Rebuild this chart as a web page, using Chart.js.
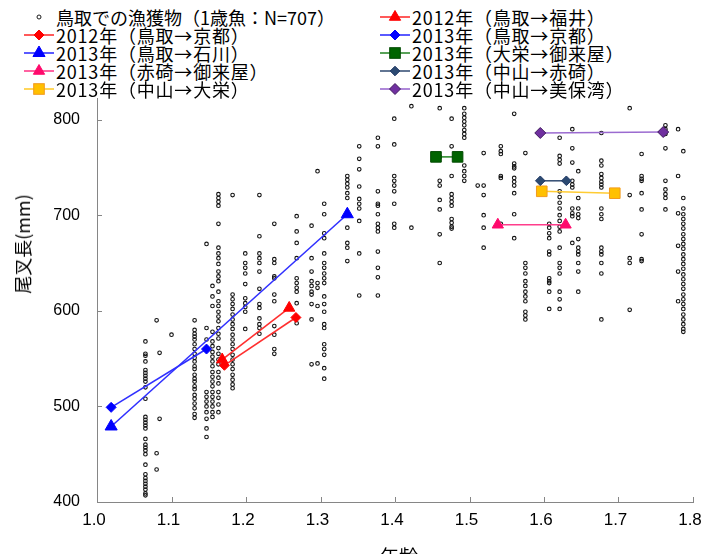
<!DOCTYPE html>
<html>
<head>
<meta charset="utf-8">
<script src="https://cdn.jsdelivr.net/npm/chart.js@4.4.1/dist/chart.umd.min.js"></script>
<style>
body{margin:0;background:#fff;overflow:hidden;}
#wrap{position:relative;width:702px;height:554px;overflow:hidden;}
#legend{position:absolute;left:0;top:0;width:702px;height:98px;background:#fff;}
.item{position:absolute;height:18px;line-height:18px;font-size:18px;font-family:"Noto Sans CJK JP";white-space:nowrap;color:#000;}
.item.track{letter-spacing:0.8px;}
.item svg{position:absolute;left:-32px;top:0;}
#ytitle{position:absolute;left:22px;top:244px;transform:translate(-50%,-50%) rotate(-90deg);font:18px "Noto Sans CJK JP";line-height:18px;white-space:nowrap;}
#xtitle{position:absolute;left:399px;top:546px;transform:translateX(-50%);font:19px "Noto Sans CJK JP";line-height:19px;white-space:nowrap;}
</style>
</head>
<body>
<div id="wrap">
  <canvas id="chart" width="702" height="554"></canvas>
  <div id="legend"></div>
  <div id="ytitle">尾叉長(mm)</div>
  <div id="xtitle">年齢</div>
</div>
<script>
// ---------------- DATA ----------------
// catch data (age columns, fork length in mm)
const catchLabel = "鳥取での漁獲物（1歳魚：N=707）";
const catchAges = [1.065,1.080,1.084,1.100,1.131,1.147,1.155,1.163,1.182,1.199,1.218,1.238,1.268,1.288,1.296,1.305,
  1.336,1.352,1.377,1.399,1.422,1.460,1.476,1.493,1.511,1.519,1.542,1.560,1.575,1.607,1.621,1.638,1.646,1.677,
  1.715,1.731,1.763,1.780,1.787];
const catchLengths = [
  [568,555,553,547,538,535,532,529,526,520,508,489,486,483,480,477,466,460,457,454,450,439,429,425,422,419,416,413,409,407],
  [590,451,434],
  [556,487],
  [575],
  [590,580,576,573,570,565,560,555,551,547,542,539,533,529,526,521,518,512,508,503,498,492,488],
  [670,582,570,515,510,505,500,494,487,477,468],
  [626,615,605,578,568,563,557,552,547,542,536,531,526,521,515,510,505,500,494,489],
  [722,718,714,710,691,666,660,655,649,641,636,631,620,610,605,599,594,589,582,576,571,561,555,549,544,536,530,524,515,509,502,494],
  [721,617,612,607,602,596,591,586,581,575,570,565,560,554,549,544,539,533,528,523,519],
  [660,650,645,639,628,613,608,604,599,581],
  [721,678,660,655,650,641,623,607,603,592,586,582,576],
  [691,654,650,636,634,617,610,584,575,560,555],
  [699,683,671,655,634,629,624,620,608,587],
  [689,655,641,631,626,620,617,607,591,544],
  [746,629,624,605,545],
  [712,701,681,676,660,650,645,639,634,629,615,607,599,586,582,565,560,554,540,529],
  [741,737,733,729,723,718,701,687,671,666,652],
  [772,759,748,730,717,712,707,694,660,616],
  [781,772,725,712,710,701,691,687,683,662,645,635,616],
  [801,774,741,736,731,725,712,691,687],
  [814,687],
  [812,761,736,731,716,706,680,650],
  [801,772,741,722,718,714,710,696,692,688,686],
  [812,806,802,798,794,789,785,781,752,746,741,736],
  [731],
  [765,731,721,700,687,666],
  [772,767,764,741,739,691],
  [806,754,751,749,739,735,731,723,701,676],
  [765,650,645,639,631,626,620,615,610,599,595,591],
  [691,687,681,676,662,659,634,631,629,620,602],
  [781,762,758,754,725,719,713,707,700,694,688,683,666,650,645,639,620,612,602],
  [790,770,755,736,732,729,707,702,699,671],
  [746,718,707,701,697,675,666,662,659,650,641,620],
  [786,757,752,743,739,735,732,729,707,701,696,666,662,659,650,639,591],
  [812,721,655,650,601],
  [764,741,738,736,723,706,680,654,652],
  [794,790,785,770,736,727,722,718,706],
  [790,741,702,668,641,610],
  [767,718,707,701,696,691,686,680,675,670,665,659,654,649,644,638,633,628,623,617,612,607,602,596,591,586,581,578]
];

// tagged fish (release -> recapture)
const trackLabels = [
  "2012年（鳥取→福井）","2012年（鳥取→京都）","2013年（鳥取→京都）","2013年（鳥取→石川）",
  "2013年（大栄→御来屋）","2013年（赤碕→御来屋）","2013年（中山→赤碕）","2013年（中山→大栄）","2013年（中山→美保湾）"
];
const trackAges = [[1.168,1.258],[1.171,1.267],[1.019,1.147],[1.019,1.336],[1.455,1.484],[1.538,1.629],[1.595,1.630],[1.597,1.695],[1.595,1.760]];
const trackLengths = [[549,603],[543,593],[499,560],[479,701],[761,761],[690,690],[736,736],[725,723],[786,787]];

const xTicks = [1.0,1.1,1.2,1.3,1.4,1.5,1.6,1.7,1.8];
const yTicks = [400,500,600,700,800];

// ---------------- STYLE ----------------
const trackStyle = [
  {shape:"triangle", r:6.5, fill:"#ff0000", edge:"#ff0000", line:"#ff3030"},
  {shape:"rectRot",  r:5,   fill:"#ff0000", edge:"#ff0000", line:"#ff3030"},
  {shape:"rectRot",  r:5,   fill:"#0000ff", edge:"#0000ff", line:"#3030ff"},
  {shape:"triangle", r:7,   fill:"#0000ff", edge:"#0000ff", line:"#3030ff"},
  {shape:"rect",     r:7.5, fill:"#006400", edge:"#004a00", line:"#2e8b2e"},
  {shape:"triangle", r:6.5, fill:"#ff0a6c", edge:"#ff0a6c", line:"#ff3d8b"},
  {shape:"rectRot",  r:4.8, fill:"#2c4a72", edge:"#1f3864", line:"#3b5478"},
  {shape:"rect",     r:7.5, fill:"#ffc000", edge:"#f29a1e", line:"#ffcc33"},
  {shape:"rectRot",  r:5.5, fill:"#7030a0", edge:"#3f1a5c", line:"#9b6bd0"}
];
const axisColor = "#868686";

// ---------------- CHART ----------------
const catchPoints = catchAges.flatMap((a,i) => catchLengths[i].map(v => ({x:a, y:v})));

const datasets = trackLabels.map((lab,i) => ({
  label: lab,
  data: trackAges[i].map((a,j) => ({x:a, y:trackLengths[i][j]})),
  showLine: true,
  borderColor: trackStyle[i].line,
  borderWidth: 1.6,
  pointStyle: trackStyle[i].shape,
  pointRadius: trackStyle[i].r,
  pointBackgroundColor: trackStyle[i].fill,
  pointBorderColor: trackStyle[i].edge,
  pointBorderWidth: 1,
  order: 0
}));

datasets.push({
  label: catchLabel,
  data: catchPoints,
  pointStyle: "circle",
  pointRadius: 1.8,
  pointBorderWidth: 1.1,
  pointBorderColor: "#111",
  pointBackgroundColor: "rgba(0,0,0,0)",
  showLine: false,
  order: 1
});

// tick marks point inward like the original
const innerTicks = {
  id: "innerTicks",
  afterDraw(chart){
    const {ctx, scales:{x, y}} = chart;
    ctx.save();
    ctx.strokeStyle = axisColor;
    ctx.lineWidth = 1;
    ctx.beginPath();
    xTicks.forEach(v => {
      const px = Math.round(x.getPixelForValue(v)) + 0.5;
      ctx.moveTo(px, x.top);
      ctx.lineTo(px, x.top - 5);
    });
    yTicks.forEach(v => {
      const py = Math.round(y.getPixelForValue(v)) + 0.5;
      ctx.moveTo(y.right, py);
      ctx.lineTo(y.right + 5, py);
    });
    ctx.stroke();
    ctx.restore();
  }
};

new Chart(document.getElementById("chart"), {
  type: "scatter",
  data: { datasets },
  options: {
    responsive: false,
    animation: false,
    devicePixelRatio: 1,
    layout: { autoPadding: false, padding: { top: 24, right: 9, left: 0, bottom: 0 } },
    plugins: { legend: { display: false }, tooltip: { enabled: false } },
    scales: {
      x: {
        type: "linear", position: "bottom", min: 1.0, max: 1.8,
        grid: { drawOnChartArea: false, drawTicks: false },
        border: { color: axisColor, width: 1 },
        ticks: { color: "#000", padding: 8, maxRotation: 0, labelOffset: -3,
                 font: { family: "Liberation Sans", size: 17 },
                 callback: v => Number(v).toFixed(1) },
        afterBuildTicks: s => { s.ticks = xTicks.map(v => ({value: v})); },
        afterFit: s => { s.height = 52; s.paddingLeft = 0; s.paddingRight = 0; }
      },
      y: {
        type: "linear", min: 400, max: 900,
        grid: { drawOnChartArea: false, drawTicks: false },
        border: { color: axisColor, width: 1 },
        ticks: { color: "#000", padding: 17, font: { family: "Liberation Sans", size: 16 } },
        afterBuildTicks: s => { s.ticks = yTicks.map(v => ({value: v})); },
        afterFit: s => { s.width = 97; s.paddingTop = 0; s.paddingBottom = 0; }
      }
    }
  },
  plugins: [innerTicks]
});

// ---------------- LEGEND (2 columns, over the plot top) ----------------
function markerSvg(st, withLine){
  const cx = 15, cy = 9, r = st.r;
  let shape = "";
  if(st.shape === "circle"){
    shape = `<circle cx="${cx}" cy="${cy}" r="${r}" fill="none" stroke="${st.edge}" stroke-width="1"/>`;
  } else if(st.shape === "triangle"){
    const pts = [[cx, cy - r],[cx + 0.866*r, cy + 0.5*r],[cx - 0.866*r, cy + 0.5*r]];
    shape = `<polygon points="${pts.map(p => p.join(",")).join(" ")}" fill="${st.fill}" stroke="${st.edge}" stroke-width="1"/>`;
  } else if(st.shape === "rectRot"){
    const pts = [[cx, cy - r],[cx + r, cy],[cx, cy + r],[cx - r, cy]];
    shape = `<polygon points="${pts.map(p => p.join(",")).join(" ")}" fill="${st.fill}" stroke="${st.edge}" stroke-width="1"/>`;
  } else {
    const s = r * Math.SQRT1_2;
    shape = `<rect x="${cx - s}" y="${cy - s}" width="${2*s}" height="${2*s}" fill="${st.fill}" stroke="${st.edge}" stroke-width="1"/>`;
  }
  const line = withLine ? `<line x1="0" y1="${cy}" x2="30" y2="${cy}" stroke="${st.line}" stroke-width="1.6"/>` : "";
  return `<svg width="30" height="18" viewBox="0 0 30 18">${line}${shape}</svg>`;
}

const legendBox = document.getElementById("legend");
const legendItems = [{label: catchLabel, st: {shape:"circle", r:2, edge:"#1a1a1a"}, line:false}]
  .concat(trackLabels.map((l,i) => ({label: l, st: trackStyle[i], line: true})));
const colText = [56, 412];

legendItems.forEach((it, i) => {
  const row = Math.floor(i / 2), col = i % 2;
  const div = document.createElement("div");
  div.className = it.line ? "item track" : "item";
  div.style.left = colText[col] + "px";
  div.style.top = (16.5 + row * 18.2 - 9) + "px";
  div.innerHTML = markerSvg(it.st, it.line) + it.label;
  legendBox.appendChild(div);
});
</script>
</body>
</html>
